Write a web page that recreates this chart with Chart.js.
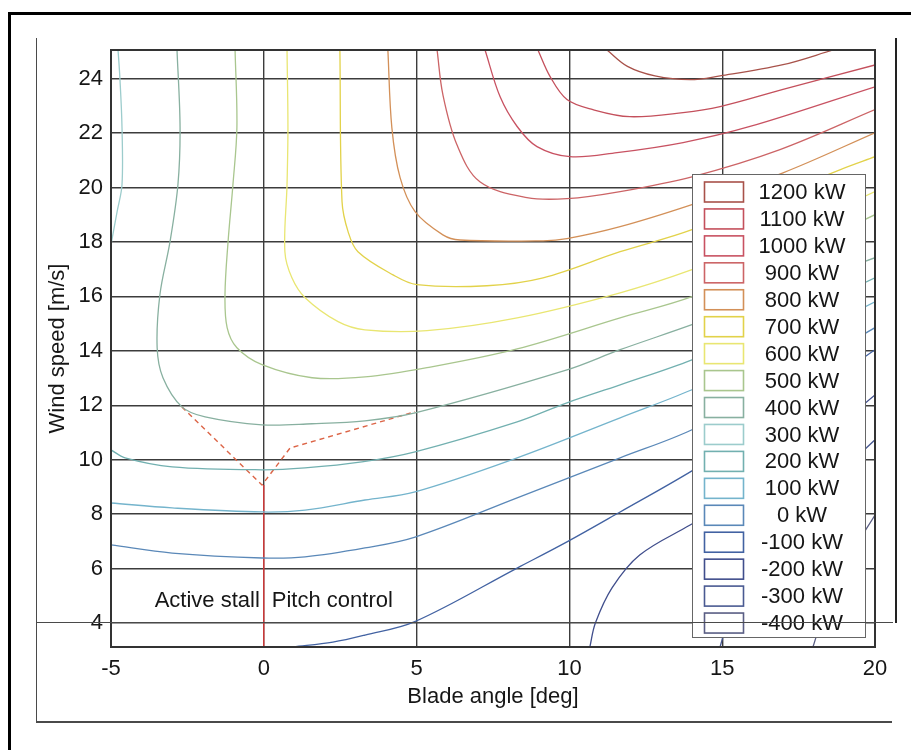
<!DOCTYPE html>
<html>
<head>
<meta charset="utf-8">
<script src="https://cdn.jsdelivr.net/npm/chart.js@4.4.0/dist/chart.umd.min.js"></script>
<style>
  html, body { margin: 0; padding: 0; background: #fff; }
  body { width: 911px; height: 750px; position: relative; overflow: hidden; }
  #chart { position: absolute; left: 0; top: 0; }
  .ln { position: absolute; background: #4a4a4a; z-index: 2; }
</style>
</head>
<body>
<div class="ln" style="left:8px;top:12px;width:903px;height:3px;background:#000"></div>
<div class="ln" style="left:8px;top:12px;width:3px;height:738px;background:#000"></div>
<div class="ln" style="left:36px;top:38px;width:1px;height:684px"></div>
<div class="ln" style="left:895px;top:38px;width:2px;height:585px;background:#222"></div>
<div class="ln" style="left:36px;top:622px;width:857px;height:1px"></div>
<div class="ln" style="left:36px;top:721px;width:856px;height:2px"></div>
<canvas id="chart" width="911" height="750"></canvas>
<script>
// contour levels and their colours
const levels = [1200, 1100, 1000, 900, 800, 700, 600, 500, 400, 300, 200, 100, 0, -100, -200, -300, -400];
const levelColors = ['#a8524a', '#c4505c', '#c85262', '#cc6466', '#d39058', '#e2d24a', '#e9e672',
  '#a9c68e', '#88b0a0', '#9ccccc', '#72b0b0', '#74b4cc', '#5a88b8', '#4262a2', '#404e8c', '#4a5a92', '#5a5e84'];

const xTicks = [-5, 0, 5, 10, 15, 20];
const yTicks = [4, 6, 8, 10, 12, 14, 16, 18, 20, 22, 24];

// contour lines, [blade angle, wind speed]
const c1200 = [[11.23, 25.05], [11.9, 24.45], [12.8, 24.1], [13.95, 23.96], [14.93, 24.1], [16.99, 24.51], [18.63, 25.05]];
const c1100 = [[8.97, 25.05], [9.37, 24.07], [9.92, 23.23], [10.77, 22.86], [11.98, 22.6], [13.72, 22.75], [14.93, 22.97], [16.99, 23.6], [20, 24.5]];
const c1000 = [[7.24, 25.05], [7.73, 23.34], [8.29, 22.24], [8.94, 21.5], [10.02, 21.13], [11.56, 21.28], [13.72, 21.65], [15.91, 22.24], [20, 23.7]];
const c900 = [[5.67, 25.05], [5.86, 23.41], [6.32, 21.57], [7.07, 20.21], [8.61, 19.63], [9.92, 19.59], [11.66, 19.85], [14.04, 20.4], [16.89, 21.39], [20, 22.86]];
const c800 = [[4.06, 25.05], [4.19, 22.2], [4.46, 20.36], [4.95, 19.11], [5.86, 18.26], [6.42, 18.07], [9.14, 18.04], [9.92, 18.12], [11.66, 18.56], [14.01, 19.37], [16.99, 20.54], [20, 22.01]];
const c700 = [[2.49, 25.05], [2.56, 19.48], [2.76, 18.37], [3.08, 17.64], [4.23, 16.79], [5.01, 16.43], [7.3, 16.39], [9.14, 16.68], [11.66, 17.64], [14.01, 18.45], [18.85, 20.65], [20, 21.13]];
const c600 = [[0.76, 25.05], [0.79, 22.2], [0.76, 20.1], [0.69, 17.64], [0.92, 16.68], [1.35, 15.95], [2.43, 15.07], [3.31, 14.77], [5.34, 14.74], [8.29, 15.21], [11.66, 16.13], [14.01, 16.98], [17, 18.3], [20, 19.85]];
const c500 = [[-0.94, 25.05], [-0.88, 22.2], [-1.01, 20.1], [-1.17, 18.0], [-1.27, 16.06], [-1.2, 14.85], [-0.88, 14.11], [-0.06, 13.49], [1.58, 13.01], [3.31, 13.04], [5.34, 13.38], [8.29, 14.07], [11.66, 15.21], [14.01, 15.99], [17, 17.4], [20, 19.0]];
const c400 = [[-2.84, 25.05], [-2.74, 22.2], [-2.81, 20.1], [-3.07, 18.0], [-3.4, 16.06], [-3.49, 14.11], [-3.3, 13.01], [-2.68, 11.94], [-1.92, 11.57], [-0.06, 11.28], [1.58, 11.32], [3.31, 11.43], [4.95, 11.72], [9.92, 13.3], [11.66, 14.04], [14.01, 14.96], [17, 16.2], [20, 17.42]];
const c300 = [[-4.77, 25.05], [-4.71, 24.04], [-4.64, 22.2], [-4.64, 20.1], [-4.8, 19.11], [-5, 17.9]];
const c200 = [[-5, 10.36], [-4.54, 10.07], [-3.0, 9.74], [-0.06, 9.63], [1.35, 9.7], [3.21, 9.92], [4.95, 10.29], [8.29, 11.39], [9.92, 12.09], [11.66, 12.75], [14.01, 13.67], [17, 15.1], [20, 16.68]];
const c100 = [[-5, 8.41], [-3.0, 8.23], [-0.06, 8.08], [1.35, 8.15], [3.31, 8.52], [4.95, 8.82], [8.29, 10.07], [11.66, 11.54], [14.01, 12.57], [17, 14.1], [20, 15.8]];
const c0 = [[-5, 6.87], [-3.0, 6.57], [-0.06, 6.39], [1.35, 6.43], [3.31, 6.76], [4.95, 7.16], [8.29, 8.6], [11.66, 10.07], [14.01, 11.1], [17, 12.9], [20, 14.85]];
const cm100 = [[0.96, 3.12], [2.26, 3.3], [3.31, 3.56], [4.92, 4.04], [8.29, 6.02], [9.92, 6.98], [11.66, 8.08], [14.01, 9.59], [17, 11.7], [20, 14.04]];
const cm200 = [[10.67, 3.12], [10.85, 4.0], [11.4, 5.3], [12.3, 6.5], [13.95, 7.6], [17, 9.6], [20, 12.38]];
const cm300 = [[14.93, 3.12], [15.3, 4.5], [16.2, 6.3], [18, 8.6], [20, 10.73]];
const cm400 = [[17.97, 3.12], [18.4, 4.6], [19.2, 6.5], [20, 7.97]];
const contours = [c1200, c1100, c1000, c900, c800, c700, c600, c500, c400, c300, c200, c100, c0, cm100, cm200, cm300, cm400];

// operating path (dashed) and stall / pitch boundary
const controlPath = [[-2.68, 11.94], [-0.06, 9.07], [0.86, 10.43], [4.95, 11.76]];
const boundary = [[0, 9.07], [0, 3.12]];

const FONT = '"Liberation Sans", Arial, Helvetica, sans-serif';
const FSIZE = 22;
Chart.defaults.font.family = FONT;

const toXY = pts => pts.map(p => ({ x: p[0], y: p[1] }));

const datasets = levels.map((lv, i) => ({
  label: lv + ' kW',
  data: toXY(contours[i]),
  borderColor: levelColors[i],
  borderWidth: 1.3,
  showLine: true,
  pointRadius: 0,
  tension: 0.35
}));
datasets.push({
  label: 'path', data: toXY(controlPath), borderColor: '#dc6446', borderWidth: 1.4,
  borderDash: [5, 4], showLine: true, pointRadius: 0, tension: 0
});
datasets.push({
  label: 'boundary', data: toXY(boundary), borderColor: '#e23a3a', borderWidth: 1.3,
  showLine: true, pointRadius: 0, tension: 0
});

// legend inside the plot, labels and box outline
const insideLegend = {
  id: 'insideLegend',
  afterDatasetsDraw(chart) {
    const { ctx, chartArea: a, scales } = chart;
    ctx.save();

    // region labels beside the boundary line
    const x0 = scales.x.getPixelForValue(0);
    const ty = scales.y.getPixelForValue(4.6);
    ctx.font = FSIZE + 'px ' + FONT;
    ctx.fillStyle = '#161616';
    ctx.textBaseline = 'alphabetic';
    ctx.textAlign = 'right';
    ctx.fillText('Active stall', x0 - 4, ty);
    ctx.textAlign = 'left';
    ctx.fillText('Pitch control', x0 + 8, ty);

    // legend box
    const left = a.right - 183, right = a.right - 10;
    const top = a.top + 124, bottom = a.bottom - 10;
    ctx.fillStyle = '#fff';
    ctx.fillRect(left, top, right - left, bottom - top);
    ctx.strokeStyle = '#666';
    ctx.lineWidth = 1;
    ctx.strokeRect(left + 0.5, top + 0.5, right - left, bottom - top);

    const pitch = 26.94;
    ctx.textAlign = 'center';
    ctx.textBaseline = 'middle';
    levels.forEach((lv, i) => {
      const cy = top + 18 + i * pitch;
      ctx.strokeStyle = levelColors[i];
      ctx.lineWidth = 1.6;
      ctx.strokeRect(left + 12.5, cy - 10, 39, 20);
      ctx.fillStyle = '#161616';
      ctx.fillText(lv + ' kW', left + 110, cy + 1);
    });

    // plot box
    ctx.strokeStyle = '#333';
    ctx.lineWidth = 2;
    ctx.strokeRect(a.left, a.top, a.right - a.left, a.bottom - a.top);
    ctx.restore();
  }
};

new Chart(document.getElementById('chart').getContext('2d'), {
  type: 'scatter',
  data: { datasets },
  options: {
    responsive: false,
    animation: false,
    layout: { padding: { left: 36, top: 50, right: 36, bottom: 0 } },
    plugins: { legend: { display: false }, tooltip: { enabled: false } },
    scales: {
      x: {
        type: 'linear',
        min: -5,
        max: 20,
        afterBuildTicks: s => { s.ticks = xTicks.map(v => ({ value: v })); },
        afterFit: s => { s.height = 103; },
        grid: { color: '#3c3c3c', lineWidth: 1.4, drawTicks: false },
        border: { display: true, color: '#555', width: 2 },
        ticks: { font: { size: FSIZE }, color: '#161616', padding: 9 },
        title: {
          display: true, text: 'Blade angle [deg]', color: '#161616',
          font: { size: FSIZE }, padding: { top: 0, bottom: 40 }
        }
      },
      y: {
        type: 'linear',
        min: 3.12,
        max: 25.05,
        afterBuildTicks: s => { s.ticks = yTicks.map(v => ({ value: v })); },
        afterFit: s => { s.width = 75; },
        grid: { color: '#3c3c3c', lineWidth: 1.4, drawTicks: false },
        border: { display: true, color: '#333', width: 2 },
        ticks: { font: { size: FSIZE }, color: '#161616', padding: 8 },
        title: {
          display: true, text: 'Wind speed [m/s]', color: '#161616',
          font: { size: FSIZE }, padding: { top: 9, bottom: 0 }
        }
      }
    }
  },
  plugins: [insideLegend]
});
</script>
</body>
</html>
